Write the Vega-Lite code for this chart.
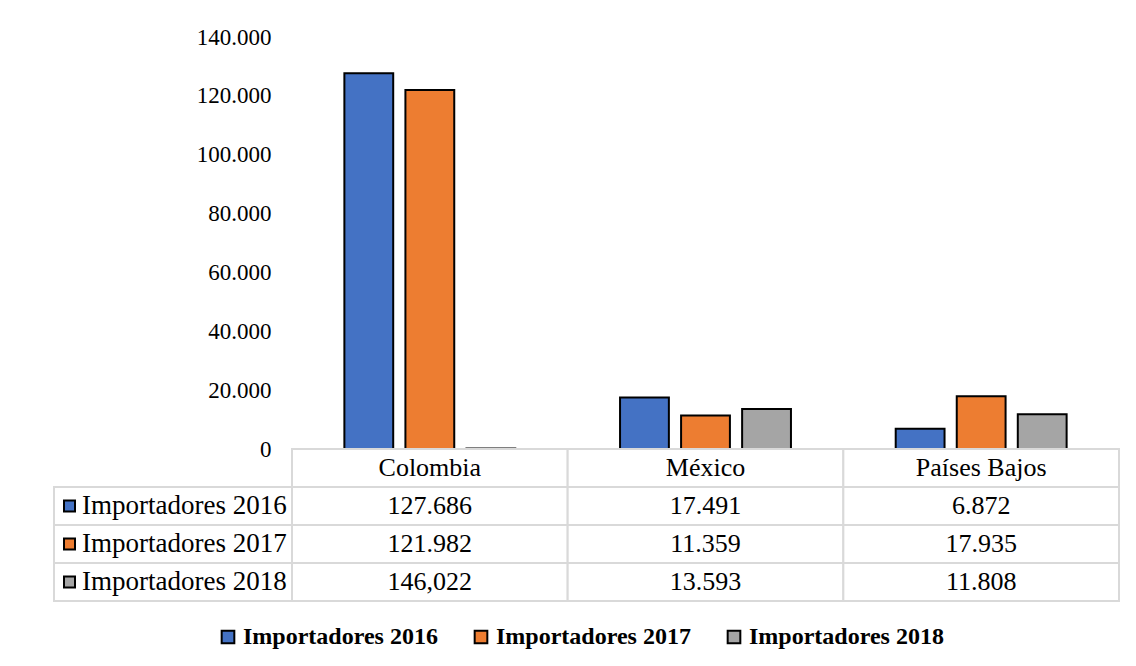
{
  "$schema": "https://vega.github.io/schema/vega-lite/v6.json",
  "padding": {"left": 53, "top": 26, "right": 0, "bottom": 0},
  "background": "white",
  "datasets": {
    "imp": [
      {"country": "Colombia", "series": "Importadores 2016", "value": 127686},
      {"country": "Colombia", "series": "Importadores 2017", "value": 121982},
      {"country": "Colombia", "series": "Importadores 2018", "value": 146.022},
      {"country": "México", "series": "Importadores 2016", "value": 17491},
      {"country": "México", "series": "Importadores 2017", "value": 11359},
      {"country": "México", "series": "Importadores 2018", "value": 13593},
      {"country": "Países Bajos", "series": "Importadores 2016", "value": 6872},
      {"country": "Países Bajos", "series": "Importadores 2017", "value": 17935},
      {"country": "Países Bajos", "series": "Importadores 2018", "value": 11808}
    ]
  },
  "columns": 2,
  "spacing": 0,
  "bounds": "flush",
  "align": "each",
  "resolve": {"scale": {"color": "shared"}, "legend": {"color": "shared"}},
  "concat": [
    {
      "width": 238,
      "height": 412,
      "data": {"values": []},
      "mark": "point"
    },
    {
      "width": 827,
      "height": 412,
      "data": {"name": "imp"},
      "mark": {"type": "bar", "stroke": "black", "strokeWidth": 2},
      "encoding": {
        "x": {
          "field": "country", "type": "nominal",
          "scale": {"domain": ["Colombia", "México", "Países Bajos"], "paddingInner": 0.38, "paddingOuter": 0.19},
          "axis": null
        },
        "xOffset": {
          "field": "series", "type": "nominal",
          "scale": {"domain": ["Importadores 2016", "Importadores 2017", "Importadores 2018"], "paddingInner": 0.2, "paddingOuter": 0}
        },
        "y": {
          "field": "value", "type": "quantitative",
          "scale": {"domain": [0, 140000], "nice": false, "zero": true},
          "axis": {
            "values": [0, 20000, 40000, 60000, 80000, 100000, 120000, 140000],
            "format": ",.0f", "title": null, "domain": false, "ticks": false, "tickSize": 0, "grid": false,
            "labelPadding": 21, "labelFontSize": 23, "labelFont": "Liberation Serif, Times New Roman, serif", "labelColor": "black"
          }
        },
        "color": {
          "field": "series", "type": "nominal",
          "scale": {"domain": ["Importadores 2016", "Importadores 2017", "Importadores 2018"], "range": ["#4472C4", "#ED7D31", "#A5A5A5"]},
          "legend": {
            "orient": "none", "legendX": 162, "legendY": 588, "direction": "horizontal", "title": null,
            "symbolType": "square", "symbolSize": 160, "symbolStrokeColor": "black", "symbolStrokeWidth": 2,
            "symbolOpacity": 1,
            "labelFont": "Liberation Serif, Times New Roman, serif", "labelFontWeight": "bold", "labelFontSize": 24, "labelColor": "black",
            "labelOffset": 3, "columnPadding": 31, "padding": 0, "labelLimit": 400
          }
        }
      }
    },
    {
      "width": 238,
      "height": 152,
      "data": {"name": "imp"},
      "transform": [{"filter": "datum.country == 'Colombia'"}],
      "encoding": {
        "y": {
          "field": "series", "type": "nominal",
          "scale": {"type": "band", "domain": ["País", "Importadores 2016", "Importadores 2017", "Importadores 2018"], "paddingInner": 0, "paddingOuter": 0},
          "axis": null
        }
      },
      "layer": [
        {"mark": {"type": "rect", "fill": "white", "stroke": "#d9d9d9", "strokeWidth": 2}},
        {
          "mark": {"type": "point", "shape": "square", "filled": true, "opacity": 1, "stroke": "black", "strokeWidth": 2, "size": 121},
          "encoding": {
            "x": {"datum": "key", "type": "nominal", "scale": {"type": "point", "domain": ["key", "label"], "range": [15.5, 28], "padding": 0}, "axis": null},
            "color": {"field": "series", "type": "nominal"}
          }
        },
        {
          "mark": {"type": "text", "align": "left", "baseline": "middle", "fontSize": 27, "font": "Liberation Serif, Times New Roman, serif", "color": "black"},
          "encoding": {
            "x": {"datum": "label", "type": "nominal"},
            "text": {"field": "series", "type": "nominal"}
          }
        }
      ]
    },
    {
      "width": 827,
      "height": 152,
      "data": {"name": "imp"},
      "encoding": {
        "x": {
          "field": "country", "type": "nominal",
          "scale": {"type": "band", "domain": ["Colombia", "México", "Países Bajos"], "paddingInner": 0, "paddingOuter": 0},
          "axis": null
        }
      },
      "layer": [
        {
          "mark": {"type": "rect", "fill": "white", "stroke": "#d9d9d9", "strokeWidth": 2},
          "encoding": {
            "y": {
              "field": "series", "type": "nominal",
              "scale": {"type": "band", "domain": ["País", "Importadores 2016", "Importadores 2017", "Importadores 2018"], "paddingInner": 0, "paddingOuter": 0},
              "axis": null
            }
          }
        },
        {
          "transform": [{"filter": "datum.series == 'Importadores 2016'"}],
          "mark": {"type": "rect", "fill": "white", "stroke": "#d9d9d9", "strokeWidth": 2},
          "encoding": {"y": {"datum": "País", "type": "nominal"}}
        },
        {
          "mark": {"type": "text", "baseline": "middle", "fontSize": 26, "font": "Liberation Serif, Times New Roman, serif", "color": "black"},
          "encoding": {
            "y": {"field": "series", "type": "nominal"},
            "text": {"field": "value", "type": "quantitative", "format": ","}
          }
        },
        {
          "transform": [{"filter": "datum.series == 'Importadores 2016'"}],
          "mark": {"type": "text", "baseline": "middle", "fontSize": 26, "font": "Liberation Serif, Times New Roman, serif", "color": "black"},
          "encoding": {
            "y": {"datum": "País", "type": "nominal"},
            "text": {"field": "country", "type": "nominal"}
          }
        }
      ]
    }
  ],
  "config": {
    "view": {"stroke": null},
    "font": "Liberation Serif, Times New Roman, serif",
    "locale": {"number": {"decimal": ",", "thousands": ".", "grouping": [3], "currency": ["", " €"]}}
  }
}
